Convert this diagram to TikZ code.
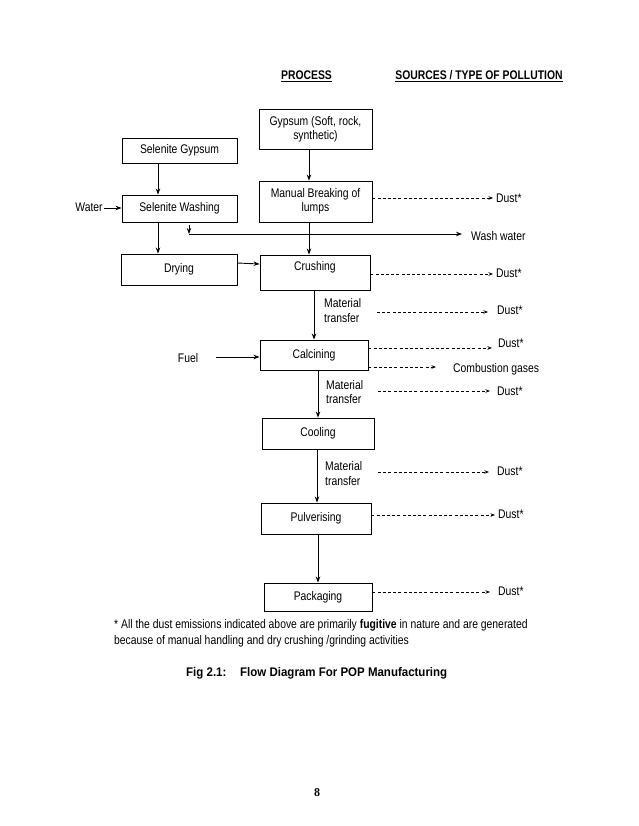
\documentclass[tikz,border=0pt]{standalone}
\usepackage{fontspec}
\setmainfont[FakeStretch=0.83]{Liberation Sans}
\newfontfamily\capfont[FakeStretch=0.92]{Liberation Sans}
\newfontfamily\numfont{Liberation Serif}
\usetikzlibrary{arrows.meta}
\begin{document}
\begin{tikzpicture}[x=1pt,y=-1pt,
  font=\fontsize{12.5}{14}\selectfont,
  box/.style={draw, line width=0.9pt, inner sep=1pt, align=center},
  arr/.style={-{Stealth[length=6pt,width=4.5pt]}, line width=0.9pt},
  dsh/.style={dash pattern=on 3pt off 2.2pt, line width=0.75pt, -{Stealth[length=4.5pt,width=3.5pt]}},
  lbl/.style={inner sep=0pt, anchor=west},
  mt/.style={inner sep=0pt, anchor=west, align=left, font=\fontsize{12.5}{14.5}\selectfont}]
\useasboundingbox (0,0) rectangle (638,826);
\fill[white] (0,0) rectangle (638,826);

% headers
\node[inner sep=0pt, font=\fontsize{12.5}{14}\selectfont\bfseries] (hproc) at (306.5,76) {\underline{PROCESS}};
\node[inner sep=0pt, font=\fontsize{12.5}{14}\selectfont\bfseries] (hsrc) at (479,76) {\underline{SOURCES / TYPE OF POLLUTION}};

% boxes
\node[box, minimum width=113pt, minimum height=40pt] (gyp) at (315.5,129) {Gypsum (Soft, rock,\\synthetic)};
\node[box, minimum width=115pt, minimum height=25pt] (sel) at (179.5,150.5) {Selenite Gypsum};
\node[box, minimum width=113pt, minimum height=41pt] (man) at (315.5,201.5) {Manual Breaking of\\lumps};
\node[box, minimum width=115pt, minimum height=27pt] (wash) at (179.5,208.5) {Selenite Washing};
\node[box, minimum width=116pt, minimum height=31pt] (dry) at (179,269.5) {Drying};
\node[box, minimum width=110pt, minimum height=35pt] (crush) at (315,272.5) {};
\node[inner sep=0pt] (crusht) at (315,267) {Crushing};
\node[box, minimum width=108pt, minimum height=30pt] (calc) at (314,355) {Calcining};
\node[box, minimum width=112pt, minimum height=31pt] (cool) at (318,433.5) {Cooling};
\node[box, minimum width=110pt, minimum height=31pt] (pulv) at (316,518.5) {Pulverising};
\node[box, minimum width=108pt, minimum height=28pt] (pack) at (318,597) {Packaging};

% side labels
\node[inner sep=0pt] (water) at (89,207) {Water};
\node[inner sep=0pt] (fuel) at (188,358) {Fuel};
\node[lbl] (washw) at (471,236) {Wash water};
\node[mt] (mt1) at (324,310.5) {Material\\transfer};
\node[mt] (mt2) at (326,392) {Material\\transfer};
\node[mt] (mt3) at (325,473.5) {Material\\transfer};

\node[lbl] (d1) at (496,198) {Dust*};
\node[lbl] (d2) at (496,273) {Dust*};
\node[lbl] (d3) at (497,310) {Dust*};
\node[lbl] (d4) at (498,343) {Dust*};
\node[lbl] (comb) at (453,369) {Combustion gases};
\node[lbl] (d5) at (497,391) {Dust*};
\node[lbl] (d6) at (497,471) {Dust*};
\node[lbl] (d7) at (498,514) {Dust*};
\node[lbl] (d8) at (498,591) {Dust*};

\coordinate (m1) at (377,312);
\coordinate (m2) at (378,391);
\coordinate (m3) at (378,472);
\coordinate (wtop) at (189,225);
\coordinate (wc) at (189,234);
\coordinate (wend) at (462,234);

% main arrows
\draw[arr] ([xshift=-6.5pt]gyp.south) -- ([xshift=-6.5pt]man.north);
\draw[arr] ([xshift=-21.5pt]sel.south) -- ([xshift=-21.5pt]wash.north);
\draw[arr] (water.east) ++(1,1) -- (wash.west |- 0,208);
\draw[arr] ([xshift=-21.5pt]wash.south) -- ([xshift=-21pt]dry.north);
\draw[arr] (wtop) -- (wc);
\draw[arr] (wc) -- (wend);
\draw[arr] ([xshift=-6.5pt]man.south) -- ([xshift=-6pt]crush.north);
\draw[arr] ([yshift=6.5pt]dry.east) -- ([yshift=8.5pt]crush.west);
\draw[arr] ([xshift=-1pt]crush.south) -- (calc.north);
\draw[arr] (fuel.east) ++(18,-1) -- ([yshift=-2pt]calc.west);
\draw[arr] ([xshift=4pt]calc.south) -- (cool.north);
\draw[arr] ([xshift=-1pt]cool.south) -- ([xshift=1pt]pulv.north);
\draw[arr] ([xshift=2pt]pulv.south) -- ([xshift=0pt]pack.north);

% dashed arrows
\draw[dsh] ([yshift=3.5pt]man.east) -- ([xshift=-3pt]d1.west);
\draw[dsh] ([yshift=-1.5pt]crush.east) -- ([xshift=-3pt,yshift=-1pt]d2.west);
\draw[dsh] (m1) -- ([xshift=-9pt,yshift=-2pt]d3.west);
\draw[dsh] ([yshift=7pt]calc.east) -- ([xshift=-6pt,yshift=-5pt]d4.west);
\draw[dsh] ([yshift=-12pt]calc.east) -- ([xshift=-17pt,yshift=2pt]comb.west);
\draw[dsh] (m2) -- ([xshift=-7pt]d5.west);
\draw[dsh] (m3) -- ([xshift=-8pt,yshift=-1pt]d6.west);
\draw[dsh] ([yshift=3.5pt]pulv.east) -- ([xshift=-3pt,yshift=-1pt]d7.west);
\draw[dsh] ([yshift=5pt]pack.east) -- ([xshift=-8pt,yshift=-1pt]d8.west);

% footnote and caption
\node[inner sep=0pt, anchor=west, align=left, font=\fontsize{12.5}{16}\selectfont] (foot) at (114,633) {* All the dust emissions indicated above are primarily \textbf{fugitive} in nature and are generated\\because of manual handling and dry crushing /grinding activities};
\node[inner sep=0pt, anchor=west, font=\capfont\fontsize{12.5}{14}\selectfont\bfseries] (cap1) at (186,673) {Fig 2.1:};
\node[inner sep=0pt, anchor=west, font=\capfont\fontsize{12.5}{14}\selectfont\bfseries] (cap2) at (240,673) {Flow Diagram For POP Manufacturing};
\node[inner sep=0pt, font=\numfont\fontsize{12}{14}\selectfont\bfseries] (pnum) at (317,793) {8};
\end{tikzpicture}
\end{document}
